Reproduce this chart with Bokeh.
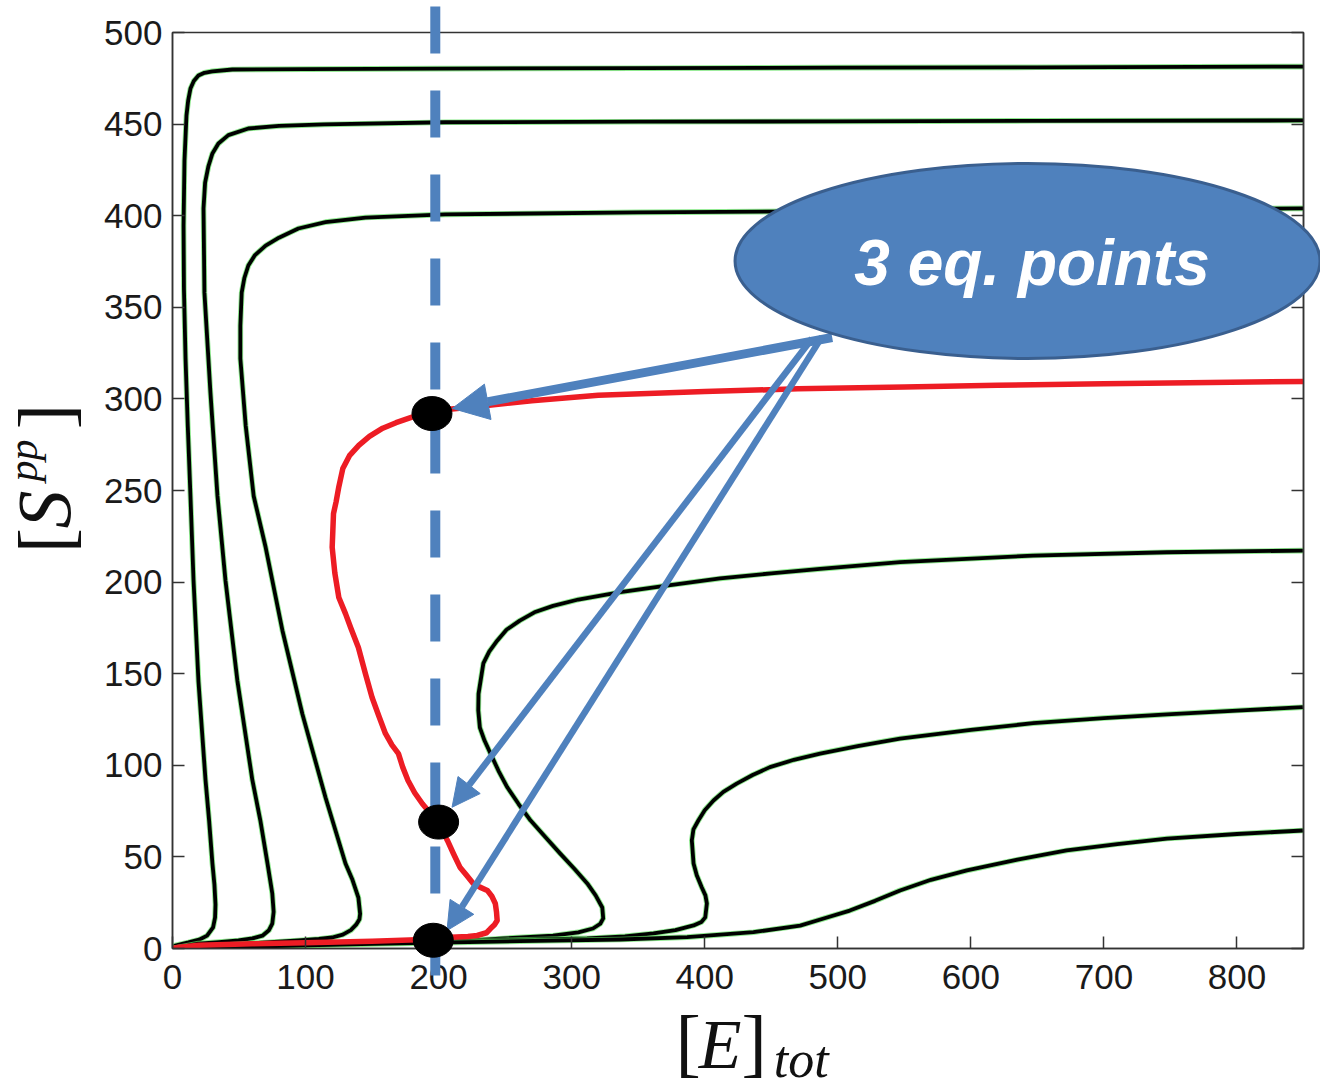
import math
from bokeh.plotting import figure
from bokeh.models import Range1d, LinearAxis, FixedTicker, Arrow, NormalHead
from bokeh.core.properties import value
from bokeh.embed import file_html
from bokeh.resources import INLINE

# ---------------- data ----------------
x_ticks = [0, 100, 200, 300, 400, 500, 600, 700, 800]
y_ticks = [0, 50, 100, 150, 200, 250, 300, 350, 400, 450, 500]

c1_x = [0, 2, 12, 20, 26, 30.5, 32, 32.3, 31.5, 30, 27.5, 24.8, 19.5, 15.8, 13.5, 11.5, 9.8, 8.6, 8.3, 9, 10.5, 11.8, 13.5, 16, 19.5, 24, 30, 45, 100, 200, 350, 500, 650, 850]
c1_y = [0, 1.6, 3.3, 4.8, 7, 11.5, 17, 24, 35, 46.4, 70, 92, 146, 201, 247, 285, 322, 360, 394.6, 430, 454.7, 463, 469.4, 473.5, 476.5, 478, 478.8, 479.8, 480, 480.3, 480.5, 480.8, 481, 481.4]

c2_x = [0, 19.5, 35, 49.6, 60, 67.6, 72.5, 75, 76, 75, 71.4, 66, 60, 48.8, 39.8, 33.8, 28.5, 24, 23.3, 24.5, 27, 30, 34.5, 42, 57, 80, 114, 205, 350, 500, 650, 850]
c2_y = [0, 2.7, 3.5, 4.4, 5.5, 7, 10, 13.6, 20, 30, 46.4, 70, 92, 146, 201, 247, 303.5, 358, 404, 418, 427, 434, 439.4, 444, 447.6, 449, 449.8, 451, 451.3, 451.5, 451.8, 452]

c3_x = [0, 57, 94.6, 110, 120, 128, 134, 138, 140.5, 141, 139.7, 135, 130, 115, 97.6, 82.6, 70, 61, 55, 51, 51, 52, 54, 57, 62, 70, 80, 94.6, 115, 145, 205, 350, 500, 650, 850]
c3_y = [0, 2.7, 4.4, 5.2, 6, 7.6, 10, 13, 16, 19, 27.8, 38, 46.4, 82.4, 128, 173.6, 219, 247, 285.5, 322, 340, 358, 366, 372.8, 378.5, 383.7, 388, 393, 396.5, 399, 400.7, 401.8, 402.5, 403.3, 404]

red_x = [0, 5, 20, 60, 100, 150, 195, 209, 222, 229, 236, 239, 242, 244, 243.5, 242.6, 240, 236.6, 231, 226, 221, 216, 211, 206.6, 203, 199, 193, 187.8, 182, 177, 173, 169.8, 165, 160, 155, 150, 145, 139.7, 134, 130, 125, 122, 120, 120.5, 121, 123, 125, 128, 133, 140, 148, 158, 168, 180, 190, 196, 210, 231, 270, 320, 400, 470, 550, 620, 700, 780, 850]
red_y = [0, 0.7, 1.8, 2.6, 3.1, 4, 5, 6.2, 6.6, 7.1, 8.6, 10.9, 13, 15.3, 20, 24.6, 28.5, 31.7, 33.5, 35.5, 40, 44.4, 52, 59, 64, 69, 74.5, 79, 85, 91.7, 99, 106.4, 111, 117.4, 127, 137, 150, 164.3, 175, 182.8, 191.6, 205, 219, 228, 237.4, 244, 252, 262, 269, 274.6, 279.5, 284, 287, 290, 292, 293, 294.5, 296, 299, 302, 304, 305.5, 306.5, 307.5, 308.3, 309, 309.5]

c7_x = [0, 100, 211, 248.6, 286, 305, 316, 321.5, 323.7, 323, 318, 311.7, 302, 291.4, 280, 269, 260, 251.6, 245, 239, 234.5, 231, 229.8, 230, 233.6, 238, 244, 251, 261, 272, 286, 305, 336.5, 370, 411.6, 450, 486.7, 546.8, 646.8, 747.4, 849.5]
c7_y = [0, 2, 3.8, 5.5, 7, 8.8, 10.9, 13.5, 16.4, 22.4, 29, 35.5, 43.5, 51.8, 61, 70, 79, 88, 97, 106.4, 113.5, 120.6, 130, 139, 155.6, 162, 168, 174, 179, 183.5, 187, 190.5, 194.5, 198, 202, 204.8, 207.2, 210.9, 214.5, 216.3, 217.2]

c8_x = [0, 150, 250, 311.5, 340, 361.5, 378, 391.6, 397.5, 400.4, 401.6, 400.5, 397.8, 394, 391.6, 390.3, 391.5, 395.3, 400, 406.6, 414, 424, 436, 449, 467, 486.7, 515, 546.8, 600, 646.8, 700, 747.4, 800, 849.5]
c8_y = [0, 3, 4.5, 5.5, 6.6, 8.2, 10, 12.6, 14.5, 17, 24.6, 29, 33.3, 40, 46.4, 59, 65, 70, 75.5, 80.8, 85.5, 90, 94.7, 99, 103, 106.4, 110.5, 114.6, 119.3, 123, 125.8, 127.8, 129.9, 131.7]

c9_x = [0, 150, 261, 336.5, 386.8, 436.6, 471.7, 490, 509, 528, 546.8, 570, 597, 635, 672, 710, 747.4, 800, 849.5]
c9_y = [0, 2.5, 4, 4.9, 6.2, 8.9, 12.5, 16.5, 20.7, 26, 31.7, 37.5, 42.6, 48.5, 53.5, 57, 60, 62.5, 64.4]

# equilibrium points and the E_tot = const line
eq_x = [195, 200, 196]
eq_y = [292, 69, 4.5]
eq_line_x = [197.5, 197.5]
eq_line_y = [514.2, -14.7]

# callout
callout_x, callout_y = 642.6, 375.3
callout_text = "3 eq. points"
callout_text_x, callout_text_y = 646, 374
arrow_x0 = [495.8, 480.7, 488.2]
arrow_y0 = [333.5, 333.0, 334.0]
arrow_x1 = [210.3, 210.1, 206.3]
arrow_y1 = [294.8, 77.1, 9.8]

BLUE = "#4F81BD"
AX = "#333333"
W, H = 1320, 1088

p = figure(width=W, height=H, x_range=Range1d(0, 850), y_range=Range1d(0, 500),
           output_backend="svg", toolbar_location=None, title=None,
           min_border_left=172, min_border_right=W - 1303, min_border_top=32, min_border_bottom=H - 948)
p.background_fill_color = "white"
p.border_fill_color = "white"
p.outline_line_color = AX
p.outline_line_width = 1.5
p.grid.visible = False

p.xaxis.ticker = FixedTicker(ticks=x_ticks)
p.yaxis.ticker = FixedTicker(ticks=y_ticks)
for ax in list(p.xaxis) + list(p.yaxis):
    ax.major_tick_in = 12
    ax.major_tick_out = 0
    ax.minor_tick_in = 0
    ax.minor_tick_out = 0
    ax.axis_line_color = AX
    ax.axis_line_width = 1.5
    ax.major_tick_line_color = AX
    ax.major_tick_line_width = 1.5
    ax.major_label_text_font = "Liberation Sans"
    ax.major_label_text_font_size = "35px"
    ax.major_label_text_color = "#1a1a1a"
p.yaxis.major_label_standoff = 10
p.xaxis.major_label_standoff = 16

right_ax = LinearAxis(ticker=FixedTicker(ticks=y_ticks), major_tick_in=12, major_tick_out=0,
                      minor_tick_in=0, minor_tick_out=0,
                      major_label_overrides={t: "" for t in y_ticks},
                      major_label_standoff=0, axis_line_color=AX, axis_line_width=1.5,
                      major_tick_line_color=AX, major_tick_line_width=1.5)
p.add_layout(right_ax, "right")

# black trajectories (with faint green fringe as in the original)
for cx, cy in [(c1_x, c1_y), (c2_x, c2_y), (c3_x, c3_y), (c7_x, c7_y), (c8_x, c8_y), (c9_x, c9_y)]:
    p.line(cx, cy, line_color="#5ee05e", line_width=5.6, line_alpha=0.7, line_join="round")
    p.line(cx, cy, line_color="black", line_width=3.8, line_join="round")

p.line(red_x, red_y, line_color="#ED1C24", line_width=5.5, line_join="round")

# arrows (annotation level, inside the frame)
for i, (hs, lw) in enumerate([(36, 9), (28, 6.5), (28, 6.5)]):
    p.add_layout(Arrow(end=NormalHead(size=hs, fill_color=BLUE, line_color=BLUE, line_width=1),
                       x_start=arrow_x0[i], y_start=arrow_y0[i], x_end=arrow_x1[i], y_end=arrow_y1[i],
                       line_color=BLUE, line_width=lw))

# dashed vertical line (overlay level: not clipped by the frame)
p.line(eq_line_x, eq_line_y, line_color=BLUE, line_width=10, line_dash="47 37", level="overlay")

# equilibrium points
p.ellipse(x=eq_x, y=eq_y, width=40, height=34, width_units="screen", height_units="screen",
          fill_color="black", line_color="black", level="overlay")

# callout ellipse + text
p.ellipse(x=[callout_x], y=[callout_y], width=585, height=195, width_units="screen", height_units="screen",
          fill_color=BLUE, line_color="#3A5F8F", line_width=3, level="overlay")
p.text(x=[callout_text_x], y=[callout_text_y], text=[callout_text], text_color="white",
       text_font=value("Liberation Sans"), text_font_style="bold italic", text_font_size="64px",
       text_align="center", text_baseline="middle", level="overlay")

# axis labels built from pieces: [E]_tot and [S^pp]
SERIF = "Liberation Serif"
def lab(x, y, t, size, style="normal", angle=0.0):
    p.text(x=[x], y=[y], text=[t], text_font=value(SERIF), text_font_size=size, text_font_style=style,
           text_align="center", text_baseline="alphabetic", angle=angle, text_color="#111111",
           level="overlay")

lab(387.6, -51.3, "[", "76px")
lab(411.6, -52.4, "E", "70px", "italic")
lab(437.2, -51.3, "]", "76px")
lab(472.5, -60.6, "tot", "52px", "italic")

A = math.pi / 2
lab(-96.1, 222.7, "[", "76px", angle=A)
lab(-96.5, 239.6, "S", "76px", "italic", angle=A)
lab(-112.0, 266.4, "pp", "42px", "italic", angle=A)
lab(-96.1, 290.4, "]", "76px", angle=A)

open("out.html", "w").write(file_html(p, INLINE))
